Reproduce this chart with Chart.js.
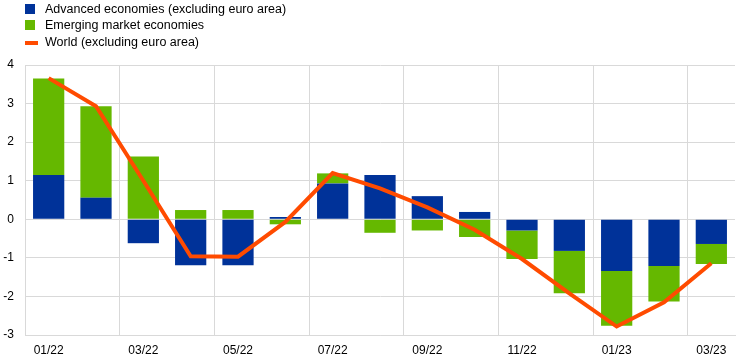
<!DOCTYPE html>
<html lang="en">
<head>
    <meta charset="UTF-8">
    <title>Advanced vs emerging economies</title>
    <script src="https://cdn.jsdelivr.net/npm/chart.js@4.4.1/dist/chart.umd.min.js"></script>
    <style>
        body { margin: 0; background: #fff; font-family: Arial, "Liberation Sans", sans-serif; }
        #wrap { position: relative; width: 744px; height: 363px; }
        #legend { position: absolute; left: 25px; top: 1px; font-size: 12.5px; color: #000; }
        .item { height: 16.3px; line-height: 16.3px; position: relative; padding-left: 20px; white-space: nowrap; }
        .box { position: absolute; left: 0; top: 3px; width: 10px; height: 10px; }
        .ln { position: absolute; left: 0; top: 7px; width: 13px; height: 4px; }
    </style>
</head>
<body>
<div id="wrap">
    <canvas id="myChart" width="744" height="363"></canvas>
    <div id="legend">
        <div class="item"><span class="box" style="background:#003299"></span>Advanced economies (excluding euro area)</div>
        <div class="item"><span class="box" style="background:#65B800"></span>Emerging market economies</div>
        <div class="item"><span class="ln" style="background:#FF4B00"></span>World (excluding euro area)</div>
    </div>
</div>

<script>
    // months shown on the x axis (only every 2nd label is printed)
    var months = ['01/22', '02/22', '03/22', '04/22', '05/22', '06/22', '07/22', '08/22',
                  '09/22', '10/22', '11/22', '12/22', '01/23', '02/23', '03/23'];

    // contributions, percentage points
    var advanced = [1.15, 0.56, -0.62, -1.19, -1.19, 0.06, 0.93, 1.15, 0.60, 0.19, -0.29, -0.82, -1.34, -1.21, -0.64];
    var emerging = [2.50, 2.37, 1.63, 0.24, 0.24, -0.13, 0.26, -0.35, -0.29, -0.46, -0.74, -1.10, -1.42, -0.92, -0.52];
    var world    = [3.66, 2.93, 1.00, -0.96, -0.97, -0.07, 1.20, 0.80, 0.31, -0.27, -1.03, -1.92, -2.78, -2.15, -1.14];

    var yTicks = [-3, -2, -1, 0, 1, 2, 3, 4];

    var gridGrey = '#d9d9d9';
    Chart.defaults.font.family = 'Arial, "Liberation Sans", sans-serif';
    Chart.defaults.font.size = 12;
    Chart.defaults.color = '#000';

    var ctx = document.getElementById('myChart');

    var myChart = new Chart(ctx, {
        type: 'bar',
        data: {
            labels: months,
            datasets: [{
                label: 'Advanced economies (excluding euro area)',
                data: advanced,
                backgroundColor: '#003299',
                stack: 'econ',
                order: 1,
                categoryPercentage: 1,
                barPercentage: 0.66
            }, {
                label: 'Emerging market economies',
                data: emerging,
                backgroundColor: '#65B800',
                stack: 'econ',
                order: 1,
                categoryPercentage: 1,
                barPercentage: 0.66
            }, {
                type: 'line',
                label: 'World (excluding euro area)',
                data: world,
                borderColor: '#FF4B00',
                borderWidth: 4,
                pointRadius: 0,
                tension: 0,
                stack: 'world',
                order: 0
            }]
        },
        options: {
            responsive: false,
            animation: false,
            layout: { padding: { top: 65, right: 9, left: 0, bottom: 0 } },
            plugins: {
                legend: { display: false },
                tooltip: { enabled: false }
            },
            scales: {
                x: {
                    stacked: true,
                    afterFit: function (s) { s.height = 28; },
                    grid: {
                        offset: true,
                        drawTicks: false,
                        color: function (c) { return c.index % 2 === 0 ? gridGrey : 'rgba(0,0,0,0)'; }
                    },
                    border: { color: gridGrey },
                    ticks: {
                        autoSkip: false,
                        maxRotation: 0,
                        padding: 8,
                        callback: function (v, i) { return i % 2 === 0 ? months[i] : ''; }
                    }
                },
                y: {
                    stacked: true,
                    min: -3,
                    max: 4,
                    afterFit: function (s) { s.width = 25; },
                    afterBuildTicks: function (s) { s.ticks = yTicks.map(function (v) { return { value: v }; }); },
                    grid: { color: gridGrey, drawTicks: false },
                    border: { color: gridGrey },
                    ticks: { padding: 11 }
                }
            }
        }
    });
</script>
</body>
</html>
